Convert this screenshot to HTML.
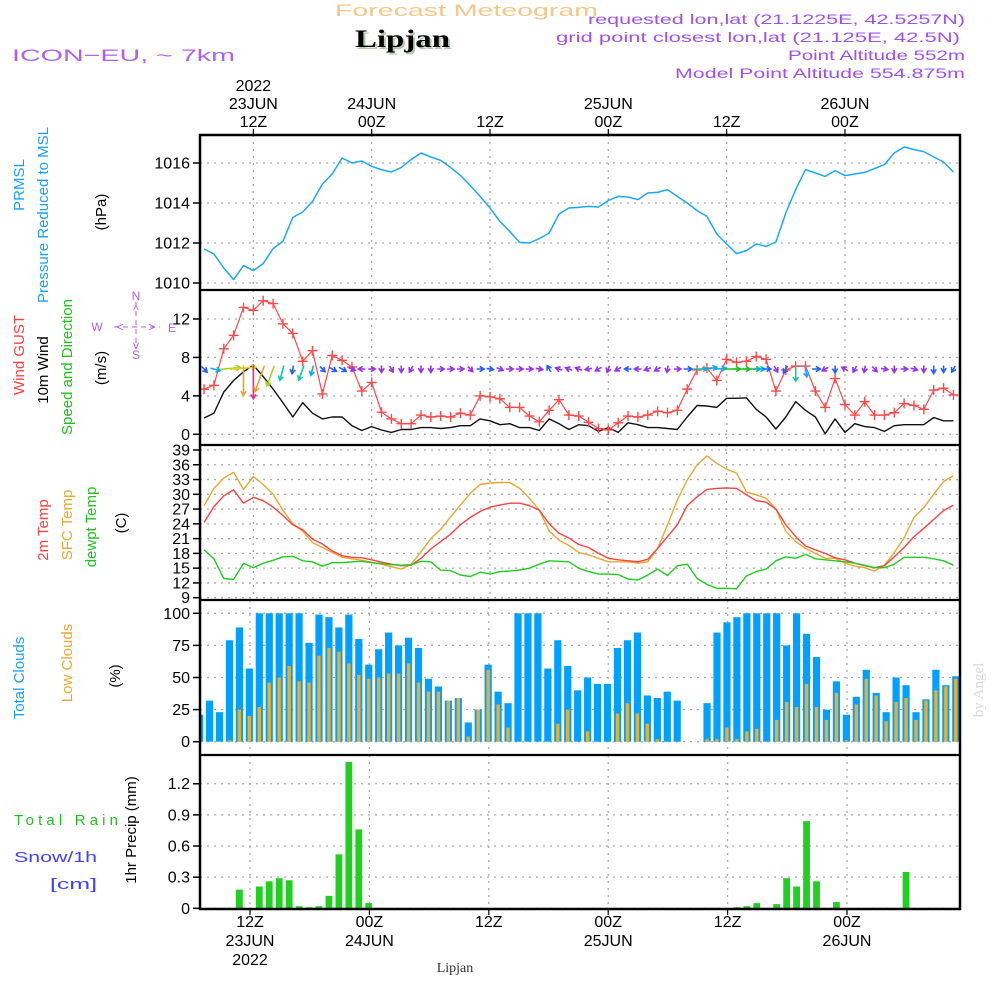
<!DOCTYPE html>
<html><head><meta charset="utf-8">
<style>
html,body{margin:0;padding:0;background:#fff;}
svg{display:block;font-family:"Liberation Sans",sans-serif;}
</style></head>
<body>
<svg id="chart" width="1000" height="1000" viewBox="0 0 1000 1000" xmlns="http://www.w3.org/2000/svg">
<rect x="0" y="0" width="1000" height="1000" fill="#fff"/>
<!-- header -->
<text x="335" y="16" font-size="17" fill="#f3c888" textLength="263" lengthAdjust="spacingAndGlyphs">Forecast Meteogram</text>
<text x="357" y="49" font-size="25" font-weight="bold" fill="#b8c8b0" textLength="95" lengthAdjust="spacingAndGlyphs" font-family="Liberation Serif, serif">Lipjan</text>
<text x="355" y="47" font-size="25" font-weight="bold" fill="#000" textLength="95" lengthAdjust="spacingAndGlyphs" font-family="Liberation Serif, serif">Lipjan</text>
<text x="12" y="61" font-size="17" fill="#b060f0" textLength="223" lengthAdjust="spacingAndGlyphs">ICON−EU, ~ 7km</text>
<g font-size="14" fill="#a050f0">
<text x="588" y="24" textLength="377" lengthAdjust="spacingAndGlyphs">requested lon,lat (21.1225E, 42.5257N)</text>
<text x="556" y="42" textLength="404" lengthAdjust="spacingAndGlyphs">grid point closest lon,lat (21.125E, 42.5N)</text>
<text x="788" y="60" textLength="177" lengthAdjust="spacingAndGlyphs">Point Altitude 552m</text>
<text x="675" y="78" textLength="290" lengthAdjust="spacingAndGlyphs">Model Point Altitude 554.875m</text>
</g>
<!-- left axis titles -->
<g font-size="15">
<text transform="translate(24,185) rotate(-90)" text-anchor="middle" fill="#1aa0f0">PRMSL</text>
<text transform="translate(48,215) rotate(-90)" text-anchor="middle" fill="#1aa0f0">Pressure Reduced to MSL</text>
<text transform="translate(106,212) rotate(-90)" text-anchor="middle" fill="#000">(hPa)</text>
<text transform="translate(24,355) rotate(-90)" text-anchor="middle" fill="#ff4040">Wind GUST</text>
<text transform="translate(48,370) rotate(-90)" text-anchor="middle" fill="#000">10m Wind</text>
<text transform="translate(72,367) rotate(-90)" text-anchor="middle" fill="#20c020">Speed and Direction</text>
<text transform="translate(106,368) rotate(-90)" text-anchor="middle" fill="#000">(m/s)</text>
<text transform="translate(48,530) rotate(-90)" text-anchor="middle" fill="#ff4040">2m Temp</text>
<text transform="translate(72,525) rotate(-90)" text-anchor="middle" fill="#e8a830">SFC Temp</text>
<text transform="translate(96,527) rotate(-90)" text-anchor="middle" fill="#20c020">dewpt Temp</text>
<text transform="translate(126,523) rotate(-90)" text-anchor="middle" fill="#000">(C)</text>
<text transform="translate(24,678) rotate(-90)" text-anchor="middle" fill="#1aa0f0">Total Clouds</text>
<text transform="translate(72,663) rotate(-90)" text-anchor="middle" fill="#e8a830">Low Clouds</text>
<text transform="translate(120,676) rotate(-90)" text-anchor="middle" fill="#000">(%)</text>
<text transform="translate(136,830) rotate(-90)" text-anchor="middle" fill="#000">1hr Precip (mm)</text>
<text x="14" y="825" fill="#20c020" textLength="104" lengthAdjust="spacing">Total Rain</text>
<text x="14" y="862" fill="#4040ff" textLength="83" lengthAdjust="spacingAndGlyphs">Snow/1h</text>
<text x="50" y="889" fill="#4040ff" textLength="47" lengthAdjust="spacingAndGlyphs">[cm]</text>
</g>
<!-- compass -->
<g fill="#b060f0" stroke="none" font-size="12" text-anchor="middle">
<text x="136" y="300">N</text><text x="136" y="359">S</text><text x="97" y="331">W</text><text x="172" y="332">E</text>
<line x1="114" y1="327" x2="160" y2="327" stroke="#b060f0" stroke-dasharray="5,4"/>
<line x1="136" y1="302" x2="136" y2="348" stroke="#b060f0" stroke-dasharray="5,4"/>
<text x="120" y="331">&lt;</text><text x="152" y="331">&gt;</text>
<text x="136" y="314">^</text><text x="136" y="349">v</text>
</g>
<text transform="translate(983,690) rotate(-90)" text-anchor="middle" font-size="15" fill="#d8d8d8" font-family="Liberation Serif, serif">by Angel</text>
<text x="455" y="972" font-size="14" text-anchor="middle" font-family="Liberation Serif, serif" fill="#333">Lipjan</text>
<g id="plot"></g>
</svg>
<script>
// ===== data (hourly, t = hours from 12Z 23JUN, first value at t=-5) =====
const pressure = [1011.7,1011.45,1010.75,1010.17,1010.87,1010.62,1010.97,1011.72,1012.08,1013.28,1013.55,1014.08,1014.95,1015.45,1016.25,1016.0,1016.1,1015.83,1015.67,1015.55,1015.78,1016.17,1016.5,1016.3,1016.13,1015.78,1015.38,1014.87,1014.33,1013.75,1013.08,1012.58,1012.03,1012.0,1012.22,1012.5,1013.45,1013.75,1013.78,1013.83,1013.8,1014.13,1014.33,1014.3,1014.17,1014.5,1014.53,1014.67,1014.33,1014.0,1013.62,1013.33,1012.45,1011.95,1011.47,1011.62,1011.95,1011.83,1012.05,1013.5,1014.67,1015.67,1015.5,1015.33,1015.62,1015.37,1015.45,1015.53,1015.72,1015.92,1016.5,1016.8,1016.67,1016.57,1016.3,1016.05,1015.55];
const gust = [4.7,5.1,8.9,10.3,13.2,12.9,13.9,13.6,11.5,10.5,7.6,8.7,4.2,8.2,7.7,7.0,4.5,5.4,2.3,1.6,1.1,1.1,2.0,1.8,1.9,1.8,2.2,2.0,4.0,3.9,3.7,2.8,2.8,1.9,1.3,2.5,3.6,2.0,1.9,1.25,0.6,0.45,1.2,1.9,1.8,2.0,2.4,2.25,2.5,4.7,6.7,6.9,5.6,7.8,7.5,7.6,8.1,7.8,4.5,6.7,7.1,7.1,4.5,2.8,5.8,3.1,2.0,3.4,2.0,2.0,2.25,3.2,3.0,2.6,4.6,4.8,4.1];
const windSpeed = [1.7,2.2,4.4,5.6,6.5,7.2,6.0,4.7,3.3,1.8,3.3,2.2,1.6,1.8,1.8,0.9,0.4,0.8,0.45,0.2,0.5,0.5,0.7,0.7,0.6,0.7,0.9,0.9,1.6,1.4,1.0,1.1,0.7,0.7,0.4,1.6,1.1,0.5,1.0,0.9,0.3,0.7,0.2,1.2,1.0,0.7,0.7,0.6,0.5,1.8,3.0,2.95,2.8,3.75,3.75,3.8,2.6,1.8,0.55,1.8,3.4,2.5,1.8,0.05,1.6,0.2,1.1,0.8,0.7,0.3,0.9,1.0,1.0,1.0,1.75,1.4,1.4];
const windDir = [45,15,-5,-5,90,90,110,110,105,100,110,105,45,30,30,20,180,0,90,60,90,120,90,90,0,0,0,45,0,10,20,0,0,0,10,-120,200,200,200,170,150,110,150,180,180,160,150,100,0,0,0,-10,-5,0,0,0,0,0,60,120,90,80,0,150,90,-150,120,100,45,10,90,0,15,90,90,90,120];
const temp2m = [24.3,27.5,29.7,30.9,28.2,29.4,28.7,27.4,25.7,23.8,22.8,20.9,19.9,18.5,17.5,17.2,17.1,16.7,16.2,15.8,15.5,15.6,17.0,18.9,20.4,21.9,23.8,25.3,26.5,27.4,27.8,28.2,28.2,27.7,26.8,24.0,22.1,21.1,19.8,19.2,18.0,17.0,16.7,16.5,16.3,16.8,19.0,21.4,23.8,27.7,29.5,31.0,31.2,31.3,31.2,29.9,28.7,28.4,27.0,23.8,21.4,19.5,18.7,18.0,17.1,16.7,16.0,15.5,15.1,15.5,17.3,19.2,21.4,23.1,24.9,26.7,27.8];
const tempSfc = [27.7,31.2,33.3,34.5,31.0,33.6,32.0,30.0,26.8,24.0,22.5,20.2,19.2,18.2,17.2,16.9,16.6,16.2,15.8,15.3,14.8,15.8,18.3,21.0,22.9,25.4,27.8,30.2,32.0,32.3,32.4,32.4,31.2,29.2,26.8,22.5,20.7,19.6,18.2,17.7,17.0,16.3,16.3,16.3,16.0,16.3,19.0,23.8,28.8,32.9,36.0,37.8,36.3,35.1,34.3,30.5,29.9,29.2,27.0,22.5,20.4,19.0,18.0,17.0,17.0,16.0,15.4,15.1,14.4,15.6,18.2,21.1,25.3,27.3,30.0,32.6,33.8];
const dewpt = [18.7,16.9,12.9,12.7,16.0,15.1,16.0,16.6,17.3,17.4,16.5,16.3,15.4,16.1,16.1,16.3,16.4,16.1,15.9,15.7,15.6,15.7,16.4,16.3,14.6,14.5,13.6,13.3,14.2,13.8,14.3,14.4,14.6,15.0,15.8,16.5,16.4,16.3,15.0,14.3,13.8,13.8,13.7,12.8,12.6,13.6,14.8,13.5,15.5,15.8,12.9,11.7,10.9,10.9,10.8,13.4,14.3,14.8,16.5,17.3,17.0,17.8,16.9,16.7,16.5,16.3,16.0,15.6,15.1,15.1,15.8,17.2,17.2,17.2,16.9,16.5,15.6];
// bar series (first bar at k=-6)
const totalClouds = [21,32,23,79,89,57,100,100,100,100,100,77,99,97,89,99,80,60,72,85,75,81,73,49,43,32,34,15,25,60,39,30,100,100,100,57,79,59,40,50,45,45,73,79,85,36,34,39,32,0,0,30,85,93,97,100,100,100,100,75,100,84,66,25,47,21,35,56,38,23,50,44,23,33,56,44,51];
const lowClouds = [0,0,0,1,25,20,27,46,50,59,47,46,67,73,70,61,52,49,50,53,53,61,46,39,39,32,34,4,25,56,29,11,0,0,0,0,14,25,0,8,0,0,22,30,22,14,2,0,0,0,0,2,2,11,2,8,10,0,17,31,27,45,27,17,38,1,29,49,36,16,31,34,17,32,40,43,49];
const precip = [0,0,0,0,0.18,0,0.21,0.26,0.29,0.27,0.02,0.01,0.02,0.12,0.52,1.41,0.76,0.05,0,0,0,0,0,0,0,0,0,0,0,0,0,0,0,0,0,0,0,0,0,0,0,0,0,0,0,0,0,0,0,0,0,0,0,0,0.01,0.02,0.05,0,0.04,0.29,0.21,0.84,0.26,0,0.06,0,0,0,0,0,0,0.35,0,0,0,0,0];
const pressureTicks = [1010,1012,1014,1016];
const windTicks = [0,4,8,12];
const tempTicks = [9,12,15,18,21,24,27,30,33,36,39];
const cloudTicks = [0,25,50,75,100];
const precipTicks = ['0','0.3','0.6','0.9','1.2'];
const gridHours = [0,12,24,36,48,60];
const topLabels = [['2022','23JUN','12Z'],['','24JUN','00Z'],['','','12Z'],['','25JUN','00Z'],['','','12Z'],['','26JUN','00Z']];
const bottomLabels = [['12Z','23JUN','2022'],['00Z','24JUN',''],['12Z','',''],['00Z','25JUN',''],['12Z','',''],['00Z','26JUN','']];

// ===== scales =====
const T0 = -5, K0 = -6;
const xTop = t => 490 + (t - 24) * 9.86;
const xBot = t => 250 + t * 9.95;
const yP = p => 283 - (p - 1010) * 20;
const yW = v => 434.3 - v * 9.61;
const yT = v => 450 + (39 - v) * 4.923;
const yC = v => 741.7 - v * 1.284;
const yR = v => 908.3 - v * 103.8;
const panels = [[135,290,xTop],[290,445,xTop],[445,600,xTop],[600,755,xBot],[755,909,xBot]];

const NS = 'http://www.w3.org/2000/svg';
const plot = document.getElementById('plot');
function mk(tag, attrs, parent) {
  const e = document.createElementNS(NS, tag);
  for (const k in attrs) e.setAttribute(k, attrs[k]);
  (parent || plot).appendChild(e);
  return e;
}

// grids
const grid = mk('g', {stroke:'#aaa','stroke-width':1.3,'stroke-dasharray':'2,5'});


panels.forEach(p => gridHours.forEach(h => mk('line', {x1:p[2](h), x2:p[2](h), y1:p[0], y2:p[1]}, grid)));
function hGrid(vals, yf, fmt, name) {
  const g = mk('g', {});
  
  
  vals.forEach(v => {
    const y = yf(parseFloat(v));
    mk('line', {x1:200, x2:960, y1:y, y2:y, stroke:'#aaa','stroke-width':1.3,'stroke-dasharray':'2,5'}, g);
    mk('line', {x1:193, x2:200, y1:y, y2:y, stroke:'#000','stroke-width':1.5}, g);
    const t = mk('text', {x:190, y:y+5.5, 'font-size':16, 'text-anchor':'end', fill:'#000'}, g);
    t.textContent = fmt(v);
  });
}
hGrid(pressureTicks, yP, v => v, 'pressure-y-axis');
hGrid(windTicks, yW, v => v, 'wind-y-axis');
hGrid(tempTicks, yT, v => v, 'temp-y-axis');
hGrid(cloudTicks, yC, v => v, 'cloud-y-axis');
hGrid(precipTicks, yR, v => v, 'precip-y-axis');

// clouds
const cg = mk('g', {});


totalClouds.forEach((v, i) => {
  const xc = xBot(i + K0) + 9.3;
  if (v > 0) {
    const b = mk('rect', {x:Math.max(200, xc-3.6), y:yC(v), width:xc+3.6-Math.max(200, xc-3.6), height:yC(0)-yC(v), fill:'#00a0ff'}, cg);
    
    
  }
  const lv = lowClouds[i];
  if (lv > 0) {
    const b2 = mk('rect', {x:xc-1.7, y:yC(lv), width:3.4, height:yC(0)-yC(lv), fill:'#e8b030'}, cg);
    
    
  }
});
// precip
const pg = mk('g', {});


precip.forEach((v, i) => {
  if (v <= 0) return;
  const xc = xBot(i + K0) + 9.3;
  const b = mk('rect', {x:xc-3.4, y:yR(v), width:6.8, height:yR(0)-yR(v), fill:'#20d020'}, pg);
  
  
});

// lines
function line(data, yf, color, name, w) {
  const pts = data.map((v, i) => xTop(i + T0).toFixed(1) + ',' + yf(v).toFixed(1)).join(' ');
  const l = mk('polyline', {points:pts, fill:'none', stroke:color, 'stroke-width':w || 1.4, 'stroke-linejoin':'round'});
  
  
}
line(pressure, yP, '#1aa8ff', 'pressure-line', 1.5);
line(windSpeed, yW, '#111', 'wind-speed-line', 1.4);
line(gust, yW, '#ff4848', 'gust-line', 1.2);
line(tempSfc, yT, '#e8a830', 'sfc-temp-line');
line(temp2m, yT, '#ff4040', 'temp-2m-line');
line(dewpt, yT, '#20cc20', 'dewpt-line');

// gust markers
const gm = mk('g', {stroke:'#ff4848','stroke-width':1.4});


gust.forEach((v, i) => {
  const x = xTop(i + T0), y = yW(v);
  mk('path', {d:`M${x-5},${y}H${x+5}M${x},${y-5}V${y+5}`}, gm);
});

// wind arrows
function arrowColor(s) {
  if (s < 1.2) return '#9a30f0';
  if (s < 2) return '#2060ff';
  if (s < 3) return '#10a8ff';
  if (s < 3.5) return '#10c8b0';
  if (s < 4) return '#20c020';
  if (s < 5) return '#a0d820';
  if (s < 6) return '#e6d020';
  if (s < 7) return '#f0a030';
  return '#f020a0';
}
const ag = mk('g', {fill:'none','stroke-width':1.6});


windDir.forEach((d, i) => {
  const s = windSpeed[i];
  const L = Math.max(7, 4.6 * s);
  const a = d * Math.PI / 180, dx = Math.cos(a), dy = Math.sin(a);
  const x0 = xTop(i + T0) - dx * 3.5, y0 = 369 - dy * 3.5;
  const x1 = x0 + dx * L, y1 = y0 + dy * L;
  const c = arrowColor(s);
  const h = 5, ha = 0.55;
  const p1x = x1 - h * Math.cos(a - ha), p1y = y1 - h * Math.sin(a - ha);
  const p2x = x1 - h * Math.cos(a + ha), p2y = y1 - h * Math.sin(a + ha);
  const ar = mk('path', {d:`M${x0.toFixed(1)},${y0.toFixed(1)}L${x1.toFixed(1)},${y1.toFixed(1)}M${p1x.toFixed(1)},${p1y.toFixed(1)}L${x1.toFixed(1)},${y1.toFixed(1)}L${p2x.toFixed(1)},${p2y.toFixed(1)}`, stroke:c}, ag);
  
  
});

// frame
const fr = mk('g', {stroke:'#000', fill:'none'});


mk('rect', {x:200, y:135, width:760, height:774, 'stroke-width':2.5}, fr);
[290,445,600,755].forEach(y => mk('line', {x1:200, x2:960, y1:y, y2:y, 'stroke-width':2.2}, fr));

// time axis labels
const ta = mk('g', {'font-size':16, 'text-anchor':'middle', fill:'#000'});


gridHours.forEach((h, i) => {
  const xt = xTop(h);
  mk('line', {x1:xt, x2:xt, y1:129, y2:135, stroke:'#000', 'stroke-width':1.2}, ta);
  const ys = [91, 109, 127];
  topLabels[i].forEach((s, j) => { if (s) { const t = mk('text', {x:xt, y:ys[j]}, ta); t.textContent = s; } });
  const xb = xBot(h);
  mk('line', {x1:xb, x2:xb, y1:909, y2:915, stroke:'#000', 'stroke-width':1.2}, ta);
  const yb = [927, 946, 965];
  bottomLabels[i].forEach((s, j) => { if (s) { const t = mk('text', {x:xb, y:yb[j]}, ta); t.textContent = s; } });
});
</script>
</body></html>
